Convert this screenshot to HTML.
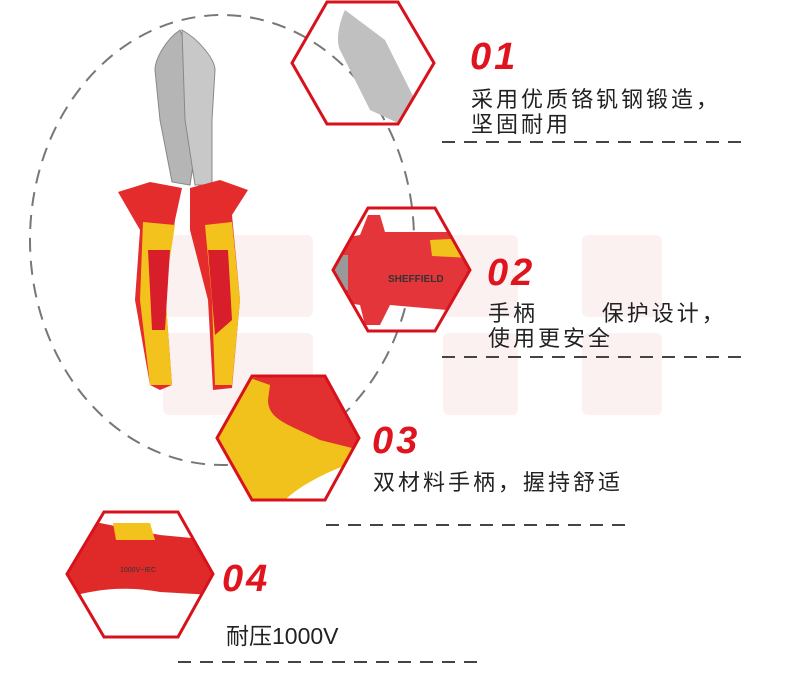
<!DOCTYPE html>
<html><head><meta charset="utf-8"><style>
body{margin:0;background:#fff;width:798px;height:673px;overflow:hidden;position:relative;font-family:"Liberation Sans","Noto Sans CJK SC",sans-serif}
.n{position:absolute;color:#e0141e;font-weight:bold;font-style:italic;font-size:38px;font-family:"Liberation Sans",sans-serif;letter-spacing:3px}
.t{position:absolute;color:#222;font-size:22px;line-height:25px;letter-spacing:3px}
</style></head><body>
<svg width="798" height="673" style="position:absolute;left:0;top:0">
<defs>
<clipPath id="h1"><polygon points="327,2 398,2 434,63 398,124 327,124 292,63"/></clipPath>
<clipPath id="h2"><polygon points="368,208 435,208 470,270 435,331 368,331 333,270"/></clipPath>
<clipPath id="h3"><polygon points="252,376 325,376 359,438 325,500 252,500 217,438"/></clipPath>
<clipPath id="h4"><polygon points="104,512 178,512 213,574 178,637 104,637 67,574"/></clipPath>
</defs>
<g fill="#fbf1f1">
<rect x="163" y="235" width="150" height="82" rx="6"/><rect x="163" y="333" width="150" height="82" rx="6"/>
<rect x="443" y="235" width="75" height="82" rx="6"/><rect x="443" y="333" width="75" height="82" rx="6"/>
<rect x="582" y="235" width="80" height="82" rx="6"/><rect x="582" y="333" width="80" height="82" rx="6"/>
</g>
<ellipse cx="222" cy="240" rx="192" ry="225" fill="none" stroke="#777" stroke-width="2" stroke-dasharray="14 9"/>
<!-- pliers -->
<path d="M180 30 C165 40 155 60 155 70 L160 120 L172 182 L190 185 L200 120 L196 70 Z" fill="#b5b5b5" stroke="#888"/>
<path d="M182 30 C200 40 215 60 215 70 L212 120 L212 185 L195 185 L185 120 Z" fill="#c8c8c8" stroke="#888"/>
<path d="M118 192 L150 182 L182 188 L175 220 L165 290 L172 385 L160 390 L150 385 L135 300 L140 230 Z" fill="#e52c2c"/>
<path d="M143 222 L175 225 L165 290 L172 385 L150 385 L140 300 Z" fill="#f4c21c"/>
<path d="M148 250 L170 250 L165 330 L152 330 Z" fill="#d81e2a"/>
<path d="M190 188 L220 180 L248 190 L232 215 L240 300 L232 388 L213 390 L208 300 L190 230 Z" fill="#e52c2c"/>
<path d="M205 225 L232 222 L240 300 L232 385 L215 385 L212 300 Z" fill="#f4c21c"/>
<path d="M208 250 L228 250 L232 320 L215 335 Z" fill="#d81e2a"/>
<!-- hex contents -->
<g clip-path="url(#h1)"><path d="M345 10 C340 20 335 40 340 50 L370 110 L400 124 L420 110 L385 40 Z" fill="#c0c0c0"/></g>
<g clip-path="url(#h2)">
<path d="M330 240 L360 235 L368 215 L380 215 L385 232 L470 232 L470 312 L390 305 L380 325 L365 325 L360 305 L330 300 Z" fill="#e4353a"/>
<path d="M430 240 L470 238 L470 258 L432 256 Z" fill="#f2c21c"/>
<path d="M330 255 L348 255 L348 290 L330 290 Z" fill="#999"/>
</g>
<g clip-path="url(#h3)">
<rect x="210" y="370" width="160" height="140" fill="#f2c21c"/>
<path d="M250 378 L270 385 L268 400 C268 420 290 425 320 440 L360 450 L360 370 Z" fill="#e23030"/>
<path d="M285 500 C300 485 330 470 360 460 L360 510 Z" fill="#fff"/>
</g>
<g clip-path="url(#h4)">
<path d="M60 520 L100 523 L160 535 L213 540 L213 595 L160 592 C120 585 90 590 60 600 Z" fill="#e02a2a"/>
<path d="M113 523 L150 523 L155 540 L116 540 Z" fill="#f4c21c"/>
</g>
<g stroke="#d8121c" stroke-width="3" fill="none">
<polygon points="327,2 398,2 434,63 398,124 327,124 292,63"/>
<polygon points="368,208 435,208 470,270 435,331 368,331 333,270"/>
<polygon points="252,376 325,376 359,438 325,500 252,500 217,438"/>
<polygon points="104,512 178,512 213,574 178,637 104,637 67,574"/>
</g>
<text x="388" y="282" font-size="10" fill="#333" font-family="Liberation Sans" font-weight="bold">SHEFFIELD</text>
<text x="120" y="572" font-size="7" fill="#333" font-family="Liberation Sans">1000V~IEC</text>
<g stroke="#444" stroke-width="2" stroke-dasharray="13 9">
<line x1="442" y1="142" x2="750" y2="142"/>
<line x1="442" y1="357" x2="750" y2="357"/>
<line x1="326" y1="525" x2="632" y2="525"/>
<line x1="178" y1="662" x2="482" y2="662"/>
</g>
</svg>
<div class="n" style="left:470px;top:36px">01</div>
<div class="t" style="left:471px;top:87px">采用优质铬钒钢锻造，<br>坚固耐用</div>
<div class="n" style="left:487px;top:252px">02</div>
<div class="t" style="left:488px;top:301px">手柄&nbsp;&nbsp;&nbsp;&nbsp;&nbsp;&nbsp;&nbsp;保护设计，<br>使用更安全</div>
<div class="n" style="left:372px;top:420px">03</div>
<div class="t" style="left:373px;top:470px">双材料手柄，握持舒适</div>
<div class="n" style="left:222px;top:558px">04</div>
<div class="t" style="left:226px;top:624px;letter-spacing:0;font-size:23px">耐压1000V</div>
</body></html>
